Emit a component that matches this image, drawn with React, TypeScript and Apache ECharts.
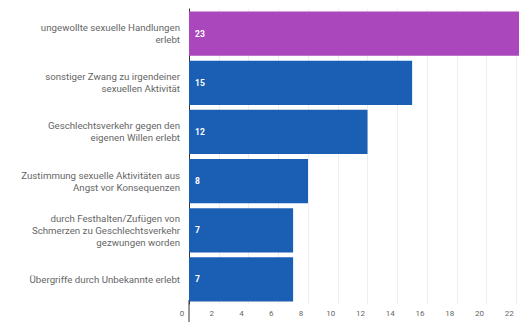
import React, { useEffect, useRef } from "react";
import * as echarts from "echarts";

const categories = [
  "ungewollte sexuelle Handlungen\nerlebt",
  "sonstiger Zwang zu irgendeiner\nsexuellen Aktivität",
  "Geschlechtsverkehr gegen den\neigenen Willen erlebt",
  "Zustimmung sexuelle Aktivitäten aus\nAngst vor Konsequenzen",
  "durch Festhalten/Zufügen von\nSchmerzen zu Geschlechtsverkehr\ngezwungen worden",
  "Übergriffe durch Unbekannte erlebt",
];
const values = [23, 15, 12, 8, 7, 7];
const barColors = ["#ab47bc", "#1a5fb4", "#1a5fb4", "#1a5fb4", "#1a5fb4", "#1a5fb4"];
const xMin = 0;
const xMax = 24;
const xInterval = 2;

export default function App() {
  const ref = useRef<HTMLDivElement>(null);
  useEffect(() => {
    if (!ref.current) return;
    const chart = echarts.init(ref.current, null, { renderer: "svg" });
    chart.setOption({
      animation: false,
      grid: { left: 189, top: 9, right: 14, bottom: 18, containLabel: false },
      xAxis: {
        type: "value",
        min: xMin,
        max: xMax,
        interval: xInterval,
        axisLine: { show: false },
        axisTick: { show: false },
        axisLabel: {
          color: "#666",
          fontSize: 8,
          fontFamily: "Roboto",
          margin: 5,
          padding: [0, 14, 0, 0],
          showMaxLabel: false,
        },
        splitLine: { show: true, lineStyle: { color: "#eeeeee", width: 1 } },
      },
      yAxis: {
        type: "category",
        inverse: true,
        data: categories,
        axisLine: { show: true, lineStyle: { color: "#333", width: 1 } },
        axisTick: { show: false },
        axisLabel: {
          color: "#666",
          fontSize: 9.7,
          fontFamily: "Roboto",
          lineHeight: 12,
          align: "right",
          margin: 9,
        },
      },
      series: [
        {
          type: "bar",
          data: values.map((v, i) => ({ value: v, itemStyle: { color: barColors[i] } })),
          barCategoryGap: "10%",
          label: {
            show: true,
            position: "insideLeft",
            distance: 6,
            color: "#fff",
            fontSize: 8.5,
            fontWeight: "bold",
            fontFamily: "Roboto",
          },
        },
      ],
    });
    const x0 = chart.convertToPixel({ xAxisIndex: 0 }, 0) as number;
    chart.setOption({
      graphic: [
        {
          type: "line",
          shape: { x1: x0, y1: 300, x2: x0, y2: 322 },
          style: { stroke: "#333", lineWidth: 1 },
          silent: true,
        },
      ],
    });
    return () => chart.dispose();
  }, []);
  return (
    <div
      style={{ position: "fixed", left: 0, top: 0, width: 519, height: 322, overflow: "hidden", background: "#fff" }}
    >
      <div ref={ref} style={{ width: 560, height: 322 }} />
    </div>
  );
}
